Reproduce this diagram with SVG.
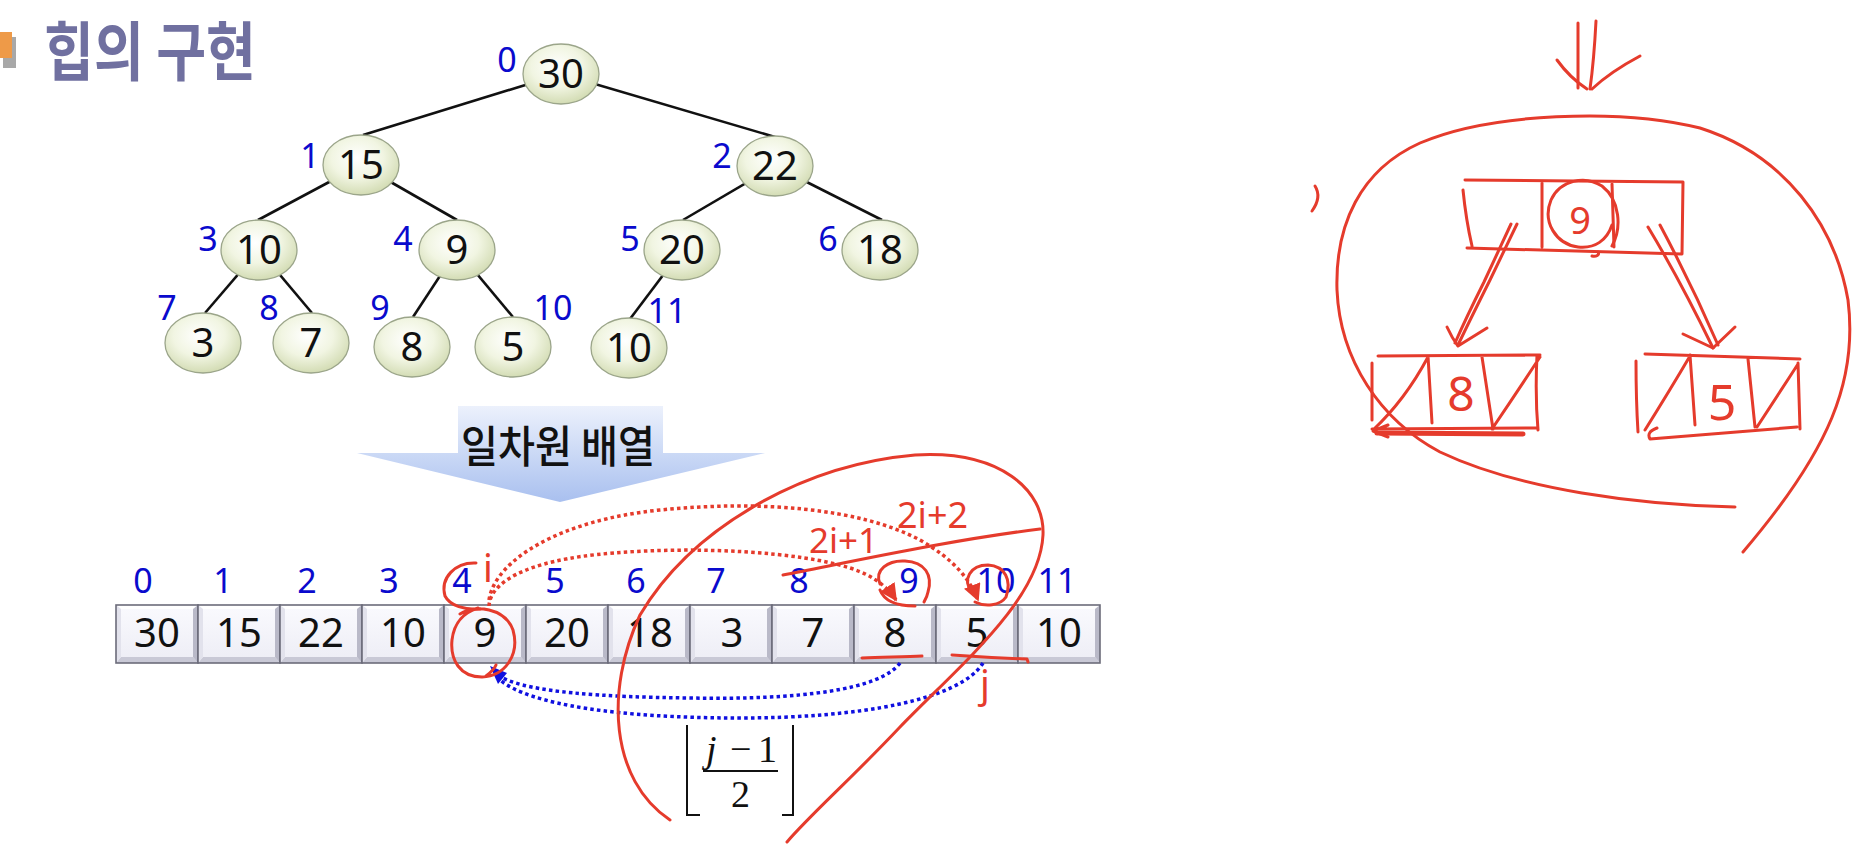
<svg xmlns="http://www.w3.org/2000/svg" xmlns:xlink="http://www.w3.org/1999/xlink" width="1854" height="846" viewBox="0 0 1854 846">
<defs>
  <radialGradient id="ng" cx="45%" cy="38%" r="62%">
    <stop offset="0" stop-color="#FFFFFF"/>
    <stop offset="0.55" stop-color="#F1F5E2"/>
    <stop offset="1" stop-color="#D3DCB4"/>
  </radialGradient>
  <linearGradient id="cg" x1="0" y1="0" x2="0" y2="1">
    <stop offset="0" stop-color="#FAFAFE"/>
    <stop offset="1" stop-color="#EDEDF5"/>
  </linearGradient>
  <linearGradient id="ag" x1="0" y1="0" x2="0" y2="1">
    <stop offset="0" stop-color="#ECF1FC"/>
    <stop offset="1" stop-color="#A9C0EF"/>
  </linearGradient>
  <g id="cell">
    <rect x="0" y="0" width="82" height="58" fill="url(#cg)"/>
    <polygon points="0,0 82,0 77,4 5,4" fill="#FFFFFF"/>
    <polygon points="0,58 82,58 77,52 5,52" fill="#C9C9D6"/>
    <polygon points="82,0 82,58 77,52 77,4" fill="#B9B9C8"/>
    <polygon points="0,0 0,58 5,52 5,4" fill="#E2E2EC"/>
    <rect x="0" y="0" width="82" height="58" fill="none" stroke="#6C6C7A" stroke-width="1.6"/>
  </g>
  <marker id="ra" viewBox="0 0 10 10" refX="9" refY="5" markerWidth="5" markerHeight="5" orient="auto">
    <path d="M0,0 L10,5 L0,10 z" fill="#E53B2C"/>
  </marker>
</defs>
<style>
  .node ellipse { fill: url(#ng); stroke: #9BA58A; stroke-width: 1.3; }
  .val { font-family: "Noto Sans", "Open Sans", sans-serif; font-size: 40px; fill: #111; text-anchor: middle; }
  .idx { font-family: "Noto Sans", "Open Sans", sans-serif; font-size: 34px; fill: #0A0ACD; text-anchor: middle; }
  .edge { stroke: #111; stroke-width: 2.6; fill: none; }
  .red { stroke: #E53B2C; stroke-width: 3; fill: none; stroke-linecap: round; stroke-linejoin: round; }
  .redt { font-family: "Noto Sans", "Open Sans", sans-serif; fill: #E53B2C; }
  .rdot { stroke: #E53B2C; stroke-width: 3.5; fill: none; stroke-dasharray: 3.5 3.2; }
  .bdot { stroke: #1010E0; stroke-width: 3.5; fill: none; stroke-dasharray: 3.5 3.2; }
  .math { font-family: "Liberation Serif", "Times New Roman", serif; font-size: 38px; fill: #111; }
</style>
<rect width="1854" height="846" fill="#FFFFFF"/>

<!-- title -->
<g id="title">
  <polygon points="3,37 16,37 16,68 3,68" fill="#A8A8A8"/>
  <polygon points="0,32 12,32 12,58 0,58" fill="#EE9A48"/>
  <text x="44" y="75" font-family="Noto Sans CJK KR, sans-serif" font-size="64" font-weight="bold" fill="#7070A0" textLength="212" lengthAdjust="spacingAndGlyphs">힙의 구현</text>
</g>

<!-- tree edges -->
<g id="connectors">
  <line class="edge" x1="561" y1="74" x2="363" y2="135"/>
  <line class="edge" x1="561" y1="74" x2="775" y2="137"/>
  <line class="edge" x1="361" y1="165" x2="258" y2="220"/>
  <line class="edge" x1="361" y1="165" x2="457" y2="220"/>
  <line class="edge" x1="775" y1="166" x2="683" y2="220"/>
  <line class="edge" x1="775" y1="166" x2="882" y2="220"/>
  <line class="edge" x1="259" y1="250" x2="205" y2="313"/>
  <line class="edge" x1="259" y1="250" x2="312" y2="313"/>
  <line class="edge" x1="457" y1="250" x2="413" y2="317"/>
  <line class="edge" x1="457" y1="250" x2="513" y2="317"/>
  <line class="edge" x1="682" y1="250" x2="630" y2="319"/>
</g>

<!-- tree nodes -->
<g id="n0" class="node"><ellipse cx="561" cy="74" rx="38" ry="30"/><text class="val" x="561" y="88">30</text><text class="idx" x="507" y="72">0</text></g>
<g id="n1" class="node"><ellipse cx="361" cy="165" rx="38" ry="30"/><text class="val" x="361" y="179">15</text><text class="idx" x="310" y="168">1</text></g>
<g id="n2" class="node"><ellipse cx="775" cy="166" rx="38" ry="30"/><text class="val" x="775" y="180">22</text><text class="idx" x="722" y="168">2</text></g>
<g id="n3" class="node"><ellipse cx="259" cy="250" rx="38" ry="30"/><text class="val" x="259" y="264">10</text><text class="idx" x="208" y="251">3</text></g>
<g id="n4" class="node"><ellipse cx="457" cy="250" rx="38" ry="30"/><text class="val" x="457" y="264">9</text><text class="idx" x="403" y="251">4</text></g>
<g id="n5" class="node"><ellipse cx="682" cy="250" rx="38" ry="30"/><text class="val" x="682" y="264">20</text><text class="idx" x="630" y="251">5</text></g>
<g id="n6" class="node"><ellipse cx="880" cy="250" rx="38" ry="30"/><text class="val" x="880" y="264">18</text><text class="idx" x="828" y="251">6</text></g>
<g id="n7" class="node"><ellipse cx="203" cy="343" rx="38" ry="30"/><text class="val" x="203" y="357">3</text><text class="idx" x="167" y="320">7</text></g>
<g id="n8" class="node"><ellipse cx="311" cy="343" rx="38" ry="30"/><text class="val" x="311" y="357">7</text><text class="idx" x="269" y="320">8</text></g>
<g id="n9" class="node"><ellipse cx="412" cy="347" rx="38" ry="30"/><text class="val" x="412" y="361">8</text><text class="idx" x="380" y="320">9</text></g>
<g id="n10" class="node"><ellipse cx="513" cy="347" rx="38" ry="30"/><text class="val" x="513" y="361">5</text><text class="idx" x="553" y="320">10</text></g>
<g id="n11" class="node"><ellipse cx="629" cy="348" rx="38" ry="30"/><text class="val" x="629" y="362">10</text><text class="idx" x="667" y="323">11</text></g>

<!-- big arrow -->
<g id="arrow-label">
  <polygon points="458,406 663,406 663,453 765,453 560,502 357,453 458,453" fill="url(#ag)"/>
  <text x="558" y="463" font-family="Noto Sans CJK KR, sans-serif" font-size="44" font-weight="500" fill="#111" text-anchor="middle" textLength="194" lengthAdjust="spacingAndGlyphs">일차원 배열</text>
</g>

<!-- array -->
<g id="array">
  <g id="c0"><use href="#cell" x="116" y="605"/><text class="val" x="157" y="647">30</text><text class="idx" x="143" y="593">0</text></g>
  <g id="c1"><use href="#cell" x="198" y="605"/><text class="val" x="239" y="647">15</text><text class="idx" x="223" y="593">1</text></g>
  <g id="c2"><use href="#cell" x="280" y="605"/><text class="val" x="321" y="647">22</text><text class="idx" x="307" y="593">2</text></g>
  <g id="c3"><use href="#cell" x="362" y="605"/><text class="val" x="403" y="647">10</text><text class="idx" x="389" y="593">3</text></g>
  <g id="c4"><use href="#cell" x="444" y="605"/><text class="val" x="485" y="647">9</text><text class="idx" x="462" y="593">4</text></g>
  <g id="c5"><use href="#cell" x="526" y="605"/><text class="val" x="567" y="647">20</text><text class="idx" x="555" y="593">5</text></g>
  <g id="c6"><use href="#cell" x="608" y="605"/><text class="val" x="650" y="647">18</text><text class="idx" x="636" y="593">6</text></g>
  <g id="c7"><use href="#cell" x="690" y="605"/><text class="val" x="732" y="647">3</text><text class="idx" x="716" y="593">7</text></g>
  <g id="c8"><use href="#cell" x="772" y="605"/><text class="val" x="813" y="647">7</text><text class="idx" x="799" y="593">8</text></g>
  <g id="c9"><use href="#cell" x="854" y="605"/><text class="val" x="895" y="647">8</text><text class="idx" x="909" y="593">9</text></g>
  <g id="c10"><use href="#cell" x="936" y="605"/><text class="val" x="977" y="647">5</text><text class="idx" x="996" y="593">10</text></g>
  <g id="c11"><use href="#cell" x="1018" y="605"/><text class="val" x="1059" y="647">10</text><text class="idx" x="1057" y="593">11</text></g>
</g>

<!-- dotted index arcs -->
<g id="index-arcs">
  <path class="rdot" d="M489 606 C490 585, 520 560, 614 553 C700 546, 800 552, 850 568 C875 576, 888 588, 896 600" marker-end="url(#ra)"/>
  <path class="rdot" d="M489 600 C495 560, 560 520, 660 510 C760 500, 860 508, 920 540 C955 560, 970 580, 978 600" marker-end="url(#ra)"/>
  <path class="bdot" d="M900 663 C880 690, 800 700, 690 698 C600 697, 530 692, 503 678"/>
  <path class="bdot" d="M983 663 C960 700, 860 718, 740 718 C620 718, 530 705, 500 680"/>
  <path d="M490 666 L507 673 L498 684 z" fill="#1010E0"/>
</g>

<!-- formula -->
<g id="formula">
  <path d="M687 725 L687 815 L700 815 M793 725 L793 815 L782 815" stroke="#111" stroke-width="2" fill="none"/>
  <line x1="703" y1="771" x2="778" y2="771" stroke="#111" stroke-width="2.2"/>
  <text class="math" x="706" y="762" font-style="italic">j</text>
  <text class="math" x="730" y="762">−</text>
  <text class="math" x="758" y="762">1</text>
  <text class="math" x="731" y="807">2</text>
</g>

<!-- red annotations on array -->
<g id="red-annotations">
  <text class="redt" x="488" y="582" font-size="38" text-anchor="middle">i</text>
  <text class="redt" x="985" y="698" font-size="38" text-anchor="middle">j</text>
  <text class="redt" x="809" y="553" font-size="35">2i+1</text>
  <text class="redt" x="897" y="528" font-size="36">2i+2</text>
  <path class="red" d="M783 575 C850 562, 950 540, 1040 529"/>
  <path class="red" d="M476 563 C455 562, 440 578, 445 596 C450 606, 465 610, 480 609"/>
  <path class="red" d="M460 614 C475 604, 505 608, 513 630 C520 655, 505 676, 482 677 C460 677, 450 660, 452 640 C454 622, 465 612, 478 608 M496 665 C494 670, 490 673, 486 676"/>
  <path class="red" d="M880 584 C874 570, 888 560, 905 561 C925 562, 933 575, 928 592 C927 597, 925 600, 924 602 M880 590 C885 603, 900 606, 915 606"/>
  <path class="red" d="M972 592 C962 580, 970 565, 988 565 C1005 566, 1012 580, 1006 597 C1000 606, 985 607, 975 602"/>
  <path class="red" d="M862 658 C885 657, 905 657, 922 656"/>
  <path class="red" d="M952 655 C980 657, 1000 658, 1027 659 L1028 662"/>
  <path class="red" d="M670 820 C610 780, 605 690, 640 615 C690 530, 800 465, 915 455 C1000 450, 1045 490, 1043 535 C1040 600, 960 665, 900 727 C850 780, 810 815, 787 842"/>
</g>

<!-- right-side sketch -->
<g id="sketch">
  <path class="red" d="M1578 23 L1578 88 M1596 21 Q1594 60 1590 89"/>
  <path class="red" d="M1557 60 Q1570 78 1587 89 M1592 89 Q1610 72 1640 56"/>
  <path class="red" d="M1315 186 Q1322 197 1312 211"/>
  <path class="red" d="M1735 507 C1640 505, 1520 490, 1440 452 C1380 420, 1340 360, 1337 290 C1335 225, 1360 170, 1420 143 C1490 113, 1620 108, 1700 128 C1785 155, 1835 225, 1848 300 C1858 380, 1830 450, 1743 552"/>
  <!-- top box -->
  <path class="red" d="M1465 180 L1683 182 L1682 254 M1467 248 L1682 254 M1463 190 Q1466 220 1472 246 M1542 183 L1542 247 M1612 184 L1614 247"/>
  <path class="red" d="M1612 246 C1622 228, 1620 200, 1602 186 C1585 175, 1560 180, 1551 200 C1542 222, 1556 244, 1578 247 C1595 249, 1607 240, 1612 225 M1598 252 C1600 255, 1596 257, 1592 256"/>
  <text class="redt" x="1580" y="234" font-size="38" text-anchor="middle">9</text>
  <!-- arrows to children -->
  <path class="red" d="M1517 224 L1490 280 Q1470 320 1458 345 M1511 224 L1484 282 Q1466 318 1455 343"/>
  <path class="red" d="M1447 327 Q1452 338 1458 346 L1487 328"/>
  <path class="red" d="M1648 227 Q1680 280 1713 348 M1660 225 Q1692 285 1718 345"/>
  <path class="red" d="M1683 334 L1713 348 L1735 327"/>
  <!-- left child box -->
  <path class="red" d="M1378 356 L1540 355 M1537 355 Q1535 395 1538 430 M1372 429 L1538 428 M1372 363 L1372 420 M1428 356 L1432 423 M1482 357 L1493 429 M1428 357 Q1405 400 1373 430 M1540 357 Q1515 395 1492 429 M1388 425 L1373 431 L1388 437"/>
  <path d="M1377 433 L1523 434" stroke="#E53B2C" stroke-width="5" stroke-linecap="round"/>
  <text class="redt" x="1461" y="411" font-size="48" text-anchor="middle">8</text>
  <!-- right child box -->
  <path class="red" d="M1645 354 L1800 359 M1636 361 Q1636 400 1638 432 M1798 363 L1800 429 M1657 428 Q1646 432 1650 439 L1797 427 M1690 355 L1695 425 M1748 359 L1755 427 M1690 356 Q1670 390 1645 430 M1798 364 Q1778 395 1757 427"/>
  <text class="redt" x="1722" y="420" font-size="50" text-anchor="middle">5</text>
</g>
</svg>
